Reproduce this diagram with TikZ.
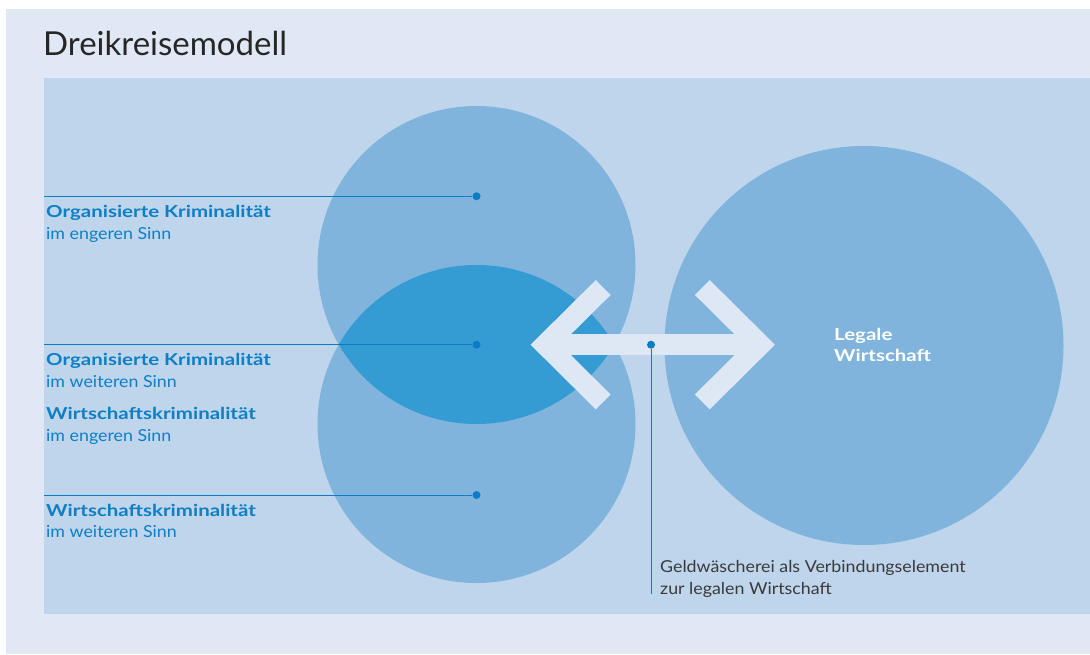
\documentclass[tikz,border=0pt]{standalone}
\usepackage{fontspec}
\setmainfont{Lato}
\newfontfamily\headfont[FakeStretch=1.24]{Lato}
\newfontfamily\subfont[FakeStretch=1.08]{Lato}
\usepackage{tikz}
\usetikzlibrary{positioning}
\definecolor{outerbg}{HTML}{DFE8F4}
\definecolor{panelbg}{HTML}{BED5EC}
\definecolor{circfill}{HTML}{80B4DD}
\definecolor{lensfill}{HTML}{359BD3}
\definecolor{arrowfill}{HTML}{DEE8F4}
\definecolor{pinblue}{HTML}{0A7DC4}
\definecolor{labelblue}{HTML}{0E7FC5}
\definecolor{notegrey}{HTML}{3A3A3A}
\tikzset{
		pin dot/.style={circle,fill=pinblue,inner sep=0pt,minimum size=8pt},
		pin line/.style={draw=pinblue,line width=1pt},
		head/.style={anchor=base west,inner sep=0pt,text=labelblue,font=\headfont\fontsize{16.5}{20}\selectfont\bfseries},
		sub/.style={anchor=base west,inner sep=0pt,text=labelblue,font=\subfont\fontsize{16.5}{20}\selectfont},
		note/.style={anchor=base west,inner sep=0pt,text=notegrey,font=\subfont\fontsize{16.5}{20}\selectfont},
		chevron/.style={draw=arrowfill,line width=21pt,miter limit=4}
	}
\begin{document}
\begin{tikzpicture}[x=1pt,y=-1pt]
					\useasboundingbox (0,0) rectangle (1090,654);
					\fill[white] (0,0) rectangle (1090,654);
					\fill[outerbg] (6,9) rectangle (1090,654);
					\fill[panelbg] (44,78) rectangle (1090,614);
					\node[anchor=base west,inner sep=0pt,text=black!85,font=\fontsize{33}{38}\selectfont] (title) at (43,55) {Dreikreisemodell};

					% the three circles
					\fill[circfill] (476.5,265) circle (159);
					\fill[circfill] (476.5,424) circle (159);
					\begin{scope}
						\clip (476.5,265) circle (159);
						\fill[lensfill] (476.5,424) circle (159);
					\end{scope}
					\fill[circfill] (864,345.5) circle (199.5);

					% double arrow
					\coordinate (lefttip)  at (545.5,344.7);
					\coordinate (righttip) at (760,344.7);
					\draw[chevron] (603.2,287.5) -- (lefttip) -- (603.2,401.9);
					\draw[chevron] (702.3,287.5) -- (righttip) -- (702.3,401.9);
					\draw[chevron] (lefttip) -- (righttip);

					% pins
					\node[pin dot] (okeng)  at (476.5,196.3) {};
					\node[pin dot] (okweit) at (476.5,344.7) {};
					\node[pin dot] (wkweit) at (476.5,495)   {};
					\node[pin dot] (gw)     at (651,344.7)   {};
					\coordinate (okengend)  at (44,196.3);
					\coordinate (okweitend) at (44,344.7);
					\coordinate (wkweitend) at (44,495);
					\coordinate (gwend)     at (651,594);
					\path[pin line] (okengend) -- (okeng);
					\path[pin line] (okweitend) -- (okweit);
					\path[pin line] (wkweitend) -- (wkweit);
					\path[pin line] (gw) -- (gwend);

					% labels
					\node[head] (okenghead)  at (46,217) {Organisierte Kriminalität};
					\node[sub]  (okengsub)   at (46,239) {im engeren Sinn};
					\node[head] (okweithead) at (46,365) {Organisierte Kriminalität};
					\node[sub]  (okweitsub)  at (46,387) {im weiteren Sinn};
					\node[head] (wkenghead)  at (46,419) {Wirtschaftskriminalität};
					\node[sub]  (wkengsub)   at (46,441) {im engeren Sinn};
					\node[head] (wkweithead) at (46,516) {Wirtschaftskriminalität};
					\node[sub]  (wkweitsub)  at (46,537) {im weiteren Sinn};
					\node[head,text=white] (legal)  at (834,340) {Legale};
					\node[head,text=white] (legal2) at (834,361) {Wirtschaft};
					\node[note] (gwnote)  at (660,572) {Geldwäscherei als Verbindungselement};
					\node[note] (gwnote2) at (660,594) {zur legalen Wirtschaft};
				\end{tikzpicture}
\end{document}
